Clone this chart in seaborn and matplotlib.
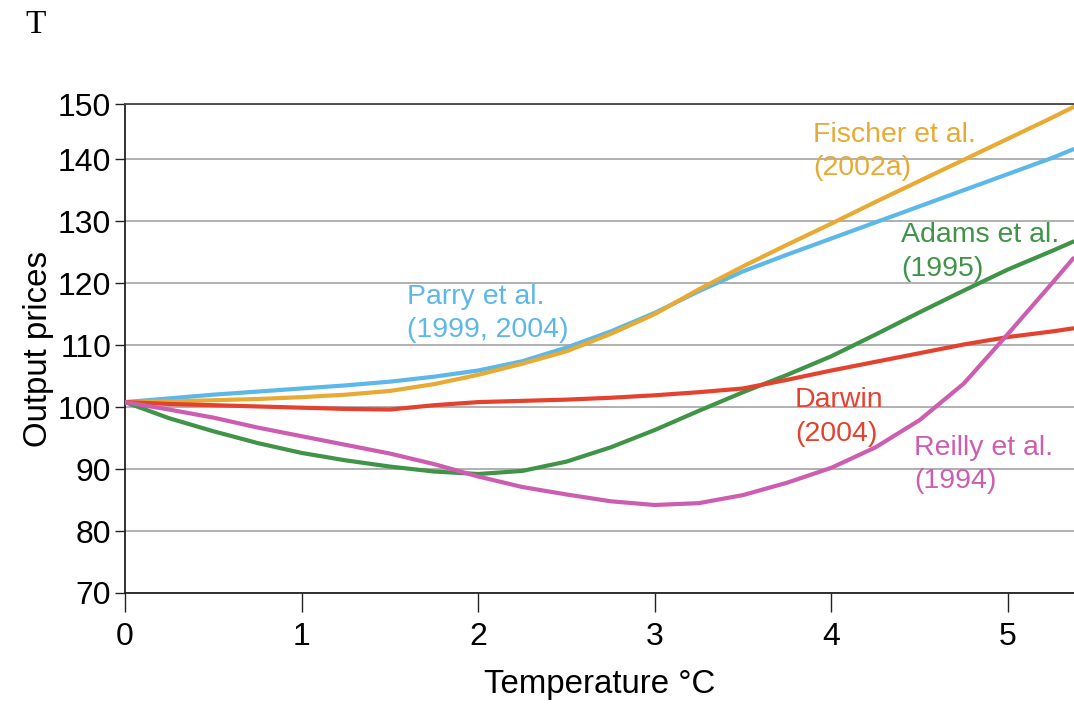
import numpy as np
import pandas as pd
import matplotlib
matplotlib.use("Agg")
import matplotlib.pyplot as plt
import seaborn as sns

# ---- data ----
temperature = [0, 0.25, 0.5, 0.75, 1, 1.25, 1.5, 1.75, 2, 2.25, 2.5, 2.75, 3,
               3.25, 3.5, 3.75, 4, 4.25, 4.5, 4.75, 5, 5.25, 5.37]

parry = [100.8, 101.4, 102.0, 102.5, 103.0, 103.5, 104.1, 104.9, 105.9, 107.4,
         109.6, 112.2, 115.2, 118.7, 121.9, 124.6, 127.2, 129.8, 132.4, 135.0,
         137.6, 140.2, 141.6]
fischer = [100.8, 100.9, 101.1, 101.3, 101.6, 102.0, 102.6, 103.7, 105.2, 107.0,
           109.0, 111.8, 115.0, 119.0, 122.7, 126.2, 129.6, 133.1, 136.5, 139.9,
           143.3, 146.7, 148.4]
adams = [100.8, 98.2, 96.1, 94.2, 92.6, 91.4, 90.4, 89.6, 89.2, 89.7,
         91.2, 93.5, 96.3, 99.4, 102.4, 105.2, 108.2, 111.7, 115.3, 118.8,
         122.2, 125.2, 126.7]
darwin = [100.8, 100.5, 100.3, 100.1, 99.9, 99.7, 99.6, 100.3, 100.8, 101.0,
          101.2, 101.5, 101.9, 102.4, 103.0, 104.4, 105.9, 107.3, 108.7, 110.1,
          111.3, 112.2, 112.7]
reilly = [100.8, 99.6, 98.3, 96.7, 95.3, 93.9, 92.5, 90.8, 88.8, 87.1,
          85.9, 84.8, 84.2, 84.5, 85.8, 87.8, 90.2, 93.5, 97.9, 103.8,
          111.8, 120.0, 124.0]

series_names = ["Adams", "Parry", "Fischer", "Darwin", "Reilly"]
series_values = [adams, parry, fischer, darwin, reilly]
series_labels = ["Adams et al.\n(1995)", "Parry et al.\n(1999, 2004)",
                 "Fischer et al.\n(2002a)", "Darwin\n(2004)", "Reilly et al.\n(1994)"]
label_x = [4.397, 1.595, 3.896, 3.794, 4.468]
label_y = [121.2, 111.3, 137.4, 94.6, 86.9]

colors = {"Adams": "#3F9447", "Parry": "#5BB8E8", "Fischer": "#E8AA32",
          "Darwin": "#E4412F", "Reilly": "#CC5DB0"}

x_ticks = [0, 1, 2, 3, 4, 5]
y_tick_values = [70, 80, 90, 100, 110, 120, 130, 140, 148.9]
y_tick_labels = ["70", "80", "90", "100", "110", "120", "130", "140", "150"]

# ---- build long-form frame ----
rows = []
for name, vals in zip(series_names, series_values):
    for t, v in zip(temperature, vals):
        rows.append({"Temperature": t, "Price": v, "Study": name})
df = pd.DataFrame(rows)

sns.set_theme(style="white")
plt.rcParams["font.family"] = ["Liberation Sans", "DejaVu Sans"]

fig = plt.figure(figsize=(10.74, 7.06), dpi=100)
ax = fig.add_axes([125 / 1074, 113 / 706, 949 / 1074, 489 / 706])

for yv in y_tick_values:
    ax.axhline(yv, color="#a3a3a3", lw=1.2, zorder=0)

sns.lineplot(data=df, x="Temperature", y="Price", hue="Study",
             hue_order=series_names, palette=colors, linewidth=3.0,
             legend=False, ax=ax, zorder=3)

for name, lab, lx, ly in zip(series_names, series_labels, label_x, label_y):
    ax.text(lx, ly, lab, color=colors[name], fontsize=20.5, ha="left",
            va="baseline", linespacing=1.36, zorder=4)

ax.set_xlim(0, 5.374)
ax.set_ylim(70, y_tick_values[-1])
ax.set_xticks(x_ticks)
ax.set_xticklabels([str(t) for t in x_ticks])
ax.set_yticks(y_tick_values)
ax.set_yticklabels(y_tick_labels)

ax.tick_params(axis="x", direction="out", length=14, width=1.0, color="#222222",
               labelsize=23, pad=7, bottom=True, labelcolor="black")
ax.tick_params(axis="y", direction="out", length=7, width=1.0, color="#222222",
               labelsize=23, pad=3, left=True, labelcolor="black")

for side in ["left", "bottom"]:
    ax.spines[side].set_visible(True)
    ax.spines[side].set_color("#222222")
    ax.spines[side].set_linewidth(1.3)
ax.spines["top"].set_visible(True)
ax.spines["top"].set_color("#444444")
ax.spines["top"].set_linewidth(1.3)
ax.spines["right"].set_visible(False)

ax.set_xlabel("Temperature °C", fontsize=23.8, labelpad=12, color="black")
ax.set_ylabel("Output prices", fontsize=23.8, labelpad=3, color="black")

fig.text(25 / 1074, 1 - 33 / 706, "T", fontsize=24, va="baseline", ha="left",
         family=["Liberation Serif", "DejaVu Serif"], color="black")

fig.savefig("out.png", dpi=100)
